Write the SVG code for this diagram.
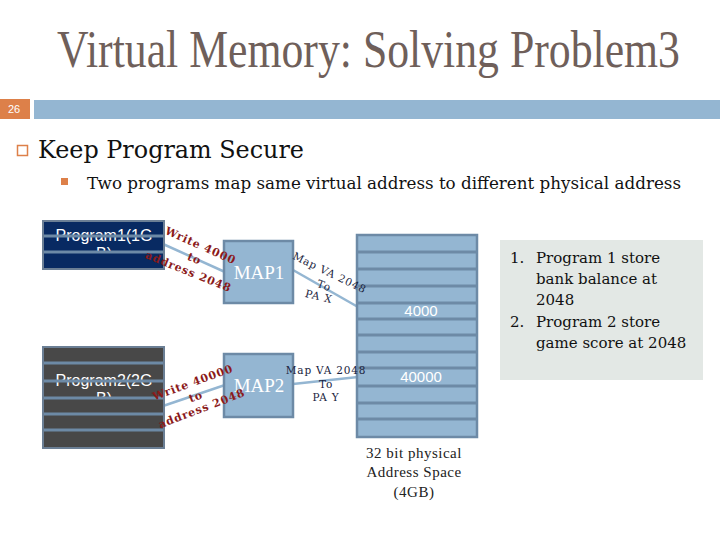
<svg xmlns="http://www.w3.org/2000/svg" width="720" height="540" viewBox="0 0 720 540">
<style>
.title{font-family:"Liberation Serif",serif;font-size:44px;fill:#6f5f5a}
.h1{font-family:"DejaVu Serif",serif;font-size:24px;fill:#111}
.h2{font-family:"DejaVu Serif",serif;font-size:16px;fill:#111}
.prog{font-family:"Liberation Sans",Arial,sans-serif;font-size:16px;fill:#fff}
.map{font-family:"Liberation Serif",serif;font-size:19px;fill:#fff}
.mem{font-family:"Liberation Sans",Arial,sans-serif;font-size:15px;fill:#fff}
.red{font-family:"DejaVu Serif",serif;font-size:11px;font-weight:bold;fill:#8b1a1a;letter-spacing:0.8px}
.blk{font-family:"DejaVu Serif",serif;font-size:10.5px;fill:#1a2440;letter-spacing:0.8px}
.cap{font-family:"Liberation Serif",serif;font-size:15px;fill:#222;letter-spacing:0.5px}
.leg{font-family:"DejaVu Serif",serif;font-size:15px;fill:#111}
.div{stroke:#6d8aa6;stroke-width:3}
.conn{stroke:#94b6d2;stroke-width:2.5;fill:none}
</style>
<rect width="720" height="540" fill="#fff"/>
<g transform="scale(1,1.18)">
<text class="title" x="57" y="56.8" textLength="623" lengthAdjust="spacingAndGlyphs">Virtual Memory: Solving Problem3</text>
</g>
<rect x="0" y="99" width="30" height="20" fill="#dd8049"/>
<text x="14" y="113" font-family="Liberation Sans,sans-serif" font-size="11" fill="#fff" text-anchor="middle">26</text>
<rect x="34" y="100" width="686" height="19" fill="#94b6d2"/>
<rect x="17.5" y="145.5" width="10" height="10" fill="none" stroke="#dd8049" stroke-width="1.5"/>
<text class="h1" x="38" y="158" textLength="266" lengthAdjust="spacingAndGlyphs">Keep Program Secure</text>
<rect x="61" y="178" width="7" height="7" fill="#dd8049"/>
<text class="h2" x="87" y="189" textLength="594" lengthAdjust="spacingAndGlyphs">Two programs map same virtual address to different physical address</text>

<g id="connectors">
<line class="conn" x1="163" y1="244" x2="225" y2="272"/>
<line class="conn" x1="293" y1="270" x2="358" y2="307"/>
<line class="conn" x1="163" y1="406" x2="225" y2="385"/>
<line class="conn" x1="293" y1="384" x2="358" y2="377"/>
</g>

<g id="program1">
<rect x="43" y="221" width="121" height="48" fill="#082a62"/>
<text class="prog" x="104" y="241" text-anchor="middle">Program1(1G</text>
<text class="prog" x="104" y="259" text-anchor="middle">B)</text>
<rect x="43" y="252" width="121" height="17" fill="#082a62"/>
<line class="div" x1="43" y1="236" x2="164" y2="236"/>
<line class="div" x1="43" y1="252" x2="164" y2="252"/>
<rect x="43" y="221" width="121" height="48" fill="none" stroke="#6b7f95" stroke-width="2"/>
</g>

<g id="program2">
<rect x="43" y="347" width="121" height="101" fill="#484848"/>
<text class="prog" x="104" y="386" text-anchor="middle">Program2(2G</text>
<text class="prog" x="104" y="404" text-anchor="middle">B)</text>
<rect x="43" y="398" width="121" height="50" fill="#484848"/>
<line class="div" x1="43" y1="363" x2="164" y2="363"/>
<line class="div" x1="43" y1="381" x2="164" y2="381"/>
<line class="div" x1="43" y1="398" x2="164" y2="398"/>
<line class="div" x1="43" y1="414" x2="164" y2="414"/>
<line class="div" x1="43" y1="430" x2="164" y2="430"/>
<rect x="43" y="347" width="121" height="101" fill="none" stroke="#6b7f95" stroke-width="2"/>
</g>

<g id="map1">
<rect x="224" y="241" width="69" height="62" fill="#94b6d2" stroke="#6d8aa6" stroke-width="2.5"/>
<text class="map" x="259" y="279" text-anchor="middle">MAP1</text>
</g>
<g id="map2">
<rect x="224" y="354" width="69" height="63" fill="#94b6d2" stroke="#6d8aa6" stroke-width="2.5"/>
<text class="map" x="259" y="392" text-anchor="middle">MAP2</text>
</g>

<g id="physmem">
<rect x="357" y="235" width="120" height="202" fill="#94b6d2"/>
<line class="div" x1="357" y1="252" x2="477" y2="252"/>
<line class="div" x1="357" y1="269" x2="477" y2="269"/>
<line class="div" x1="357" y1="286" x2="477" y2="286"/>
<line class="div" x1="357" y1="303" x2="477" y2="303"/>
<line class="div" x1="357" y1="319" x2="477" y2="319"/>
<line class="div" x1="357" y1="335" x2="477" y2="335"/>
<line class="div" x1="357" y1="352" x2="477" y2="352"/>
<line class="div" x1="357" y1="368" x2="477" y2="368"/>
<line class="div" x1="357" y1="386" x2="477" y2="386"/>
<line class="div" x1="357" y1="403" x2="477" y2="403"/>
<line class="div" x1="357" y1="419" x2="477" y2="419"/>
<rect x="357" y="235" width="120" height="202" fill="none" stroke="#6d8aa6" stroke-width="2.5"/>
<text class="mem" x="421" y="316" text-anchor="middle">4000</text>
<text class="mem" x="421" y="382" text-anchor="middle">40000</text>
<text class="cap" text-anchor="middle"><tspan x="414" y="458">32 bit physical</tspan><tspan x="414" y="477">Address Space</tspan><tspan x="414" y="497">(4GB)</tspan></text>
</g>

<g id="labels">
<text class="red" text-anchor="middle" transform="translate(199,249) rotate(24)">Write 4000</text>
<text class="red" text-anchor="middle" transform="translate(193,262) rotate(24)">to</text>
<text class="red" text-anchor="middle" transform="translate(187,275) rotate(22)">address 2048</text>
<text class="blk" text-anchor="middle" transform="translate(328,276) rotate(26)">Map VA 2048</text>
<text class="blk" text-anchor="middle" transform="translate(323,289) rotate(20)">To</text>
<text class="blk" text-anchor="middle" transform="translate(318,300) rotate(14)">PA X</text>
<text class="red" text-anchor="middle" transform="translate(194,386) rotate(-20)">Write 40000</text>
<text class="red" text-anchor="middle" transform="translate(197,400) rotate(-20)">to</text>
<text class="red" text-anchor="middle" transform="translate(203,412) rotate(-21)">address 2048</text>
<text class="blk" text-anchor="middle" x="326" y="374">Map VA  2048</text>
<text class="blk" text-anchor="middle" x="326" y="388">To</text>
<text class="blk" text-anchor="middle" x="326" y="401">PA Y</text>
</g>

<g id="legend">
<rect x="500" y="240" width="203" height="140" fill="#e3e8e5"/>
<text class="leg"><tspan x="510" y="263">1.</tspan><tspan x="536" y="263">Program 1 store</tspan><tspan x="536" y="284">bank balance at</tspan><tspan x="536" y="305">2048</tspan><tspan x="510" y="327">2.</tspan><tspan x="536" y="327">Program 2 store</tspan><tspan x="536" y="348">game score at 2048</tspan></text>
</g>
</svg>
